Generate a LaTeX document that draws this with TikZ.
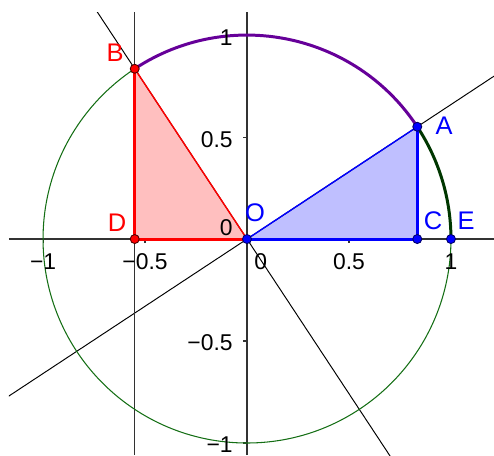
\documentclass[tikz,border=0pt]{standalone}
\usepackage{fontspec}
\setmainfont{Liberation Sans}
\usetikzlibrary{calc}
\definecolor{circgreen}{RGB}{20,110,20}
\definecolor{arcpurple}{RGB}{102,0,153}
\definecolor{arcgreen}{RGB}{0,55,0}
\definecolor{axisgray}{RGB}{50,50,50}
\definecolor{ptred}{RGB}{255,0,0}
\definecolor{ptblue}{RGB}{0,0,255}
\begin{document}
\begin{tikzpicture}[x=4.08cm,y=4.08cm,
  thinline/.style={black, line width=0.55pt},
  axisline/.style={axisgray, line width=0.7pt},
  ticklbl/.style={inner sep=0pt, font=\fontsize{13}{13}\selectfont},
  ptlbl/.style={inner sep=0pt, font=\fontsize{14.5}{14.5}\selectfont},
  redpt/.style={circle, inner sep=0pt, minimum size=0.18cm, fill=ptred, draw=black!70!red, line width=0.5pt},
  bluept/.style={circle, inner sep=0pt, minimum size=0.18cm, fill=ptblue, draw=black!60!blue, line width=0.5pt},
  tickmark/.style={axisgray, line width=0.6pt}
]
\useasboundingbox (-1.211,-1.059) rectangle (1.211,1.172);
\def\ang{33.4}
\coordinate (O) at (0,0);
\coordinate (A) at (\ang:1);
\coordinate (B) at (\ang+90:1);
\coordinate (C) at (A|-O);
\coordinate (D) at (B|-O);
\coordinate (E) at (1,0);
\coordinate (XL) at (-1.167,0);
\coordinate (XR) at (1.211,0);
\coordinate (YT) at (0,1.113);
\coordinate (YB) at (0,-1.059);
\coordinate (VT) at (D|-YT);
\coordinate (VB) at (D|-YB);
% fills
\fill[ptred, opacity=0.25] (O) -- (D) -- (B) -- cycle;
\fill[ptblue, opacity=0.25] (O) -- (C) -- (A) -- cycle;
% lines
\begin{scope}
\clip (-1.167,-1.059) rectangle (1.211,1.113);
\draw[thinline] ($(O)!-3!(A)$) -- ($(O)!3!(A)$);
\draw[thinline] ($(O)!-3!(B)$) -- ($(O)!3!(B)$);
\end{scope}
\draw[axisline] (XL) -- (XR);
\draw[axisline] (YB) -- (YT);
\draw[axisline] (VB) -- (VT);
% ticks
\foreach \t in {-1,-0.5,0.5,1}{
  \draw[tickmark] (\t,0) -- (\t,-0.018);
  \draw[tickmark] (0,\t) -- (-0.018,\t);
}
% circle and arcs
\draw[circgreen, line width=0.6pt] (O) circle[radius=1];
\draw[arcpurple, line width=1.7pt] (A) arc[start angle=\ang, end angle=\ang+90, radius=1];
\draw[arcgreen, line width=1.7pt] (E) arc[start angle=0, end angle=\ang, radius=1];
% triangles
\draw[ptred, line width=0.8pt] (O) -- (B);
\draw[ptred, line width=1.7pt] (O) -- (D) -- (B);
\draw[ptblue, line width=0.8pt] (O) -- (A);
\draw[ptblue, line width=1.7pt] (O) -- (C) -- (A);
% points
\node[redpt] (Bp) at (B) {};
\node[redpt] (Dp) at (D) {};
\node[bluept] (Ap) at (A) {};
\node[bluept] (Cp) at (C) {};
\node[bluept] (Ep) at (E) {};
\node[bluept] (Op) at (O) {};
% point labels
\node[ptlbl, text=ptred] (Bl) at (-0.647,0.912) {B};
\node[ptlbl, text=ptred] (Dl) at (-0.637,0.078) {D};
\node[ptlbl, text=ptblue] (Al) at (0.966,0.554) {A};
\node[ptlbl, text=ptblue] (Ol) at (0.039,0.127) {O};
\node[ptlbl, text=ptblue] (Cl) at (0.912,0.088) {C};
\node[ptlbl, text=ptblue] (El) at (1.074,0.088) {E};
% tick labels
\node[ticklbl] (xm1) at (-1.0,-0.113) {−1};
\node[ticklbl] (xm05) at (-0.5,-0.113) {−0.5};
\node[ticklbl] (x0) at (0.067,-0.113) {0};
\node[ticklbl] (x05) at (0.5,-0.113) {0.5};
\node[ticklbl] (x1) at (1.0,-0.113) {1};
\node[ticklbl, anchor=east] (y1) at (-0.069,0.985) {1};
\node[ticklbl, anchor=east] (y05) at (-0.069,0.485) {0.5};
\node[ticklbl, anchor=east] (y0) at (-0.069,0.054) {0};
\node[ticklbl, anchor=east] (ym05) at (-0.069,-0.51) {−0.5};
\node[ticklbl, anchor=east] (ym1) at (-0.069,-1.01) {−1};
\end{tikzpicture}
\end{document}
